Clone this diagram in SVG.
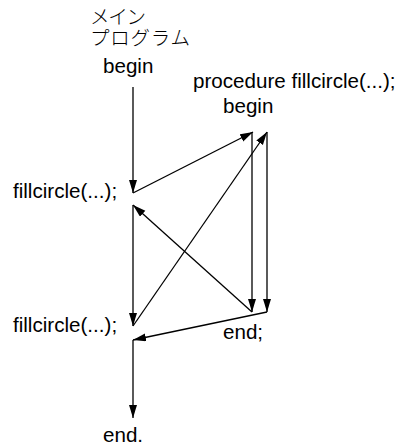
<svg xmlns="http://www.w3.org/2000/svg" width="400" height="446" viewBox="0 0 400 446">
<defs>
<style>
.t{font-family:"Liberation Sans",Arial,sans-serif;font-size:20.6px;fill:#000}
.j{font-family:"Noto Sans CJK JP",sans-serif;font-size:19.5px;font-weight:300;fill:#000}
.c line{stroke:#000;stroke-width:1.3;fill:none;marker-end:url(#ah)}
</style>
<marker id="ah" markerUnits="userSpaceOnUse" markerWidth="14" markerHeight="9" refX="13" refY="4" orient="auto">
<path d="M0,0 L13,4 L0,8 z" fill="#000"/>
</marker>
</defs>
<rect width="400" height="446" fill="#fff"/>
<g id="main-title">
<text class="j" x="90" y="24" textLength="56">メイン</text>
<text class="j" x="90" y="45" textLength="100">プログラム</text>
</g>
<g id="main-begin"><text class="t" x="103" y="73">begin</text></g>
<g id="proc-title"><text class="t" x="193" y="88">procedure fillcircle(...);</text></g>
<g id="proc-begin"><text class="t" x="223" y="113">begin</text></g>
<g id="call1"><text class="t" x="13" y="198">fillcircle(...);</text></g>
<g id="call2"><text class="t" x="13" y="332">fillcircle(...);</text></g>
<g id="proc-end"><text class="t" x="223" y="339">end;</text></g>
<g id="main-end"><text class="t" x="103" y="442">end.</text></g>
<g id="connectors" class="c">
<line x1="133" y1="87" x2="133" y2="193"/>
<line x1="133" y1="193" x2="253" y2="132"/>
<line x1="252" y1="132" x2="252" y2="312"/>
<line x1="267" y1="132" x2="267" y2="312"/>
<line x1="252" y1="312" x2="133" y2="205"/>
<line x1="133" y1="205" x2="133" y2="326"/>
<line x1="133" y1="326" x2="267" y2="132"/>
<line x1="267" y1="312" x2="133" y2="340"/>
<line x1="133" y1="340" x2="133" y2="418"/>
</g>
</svg>
